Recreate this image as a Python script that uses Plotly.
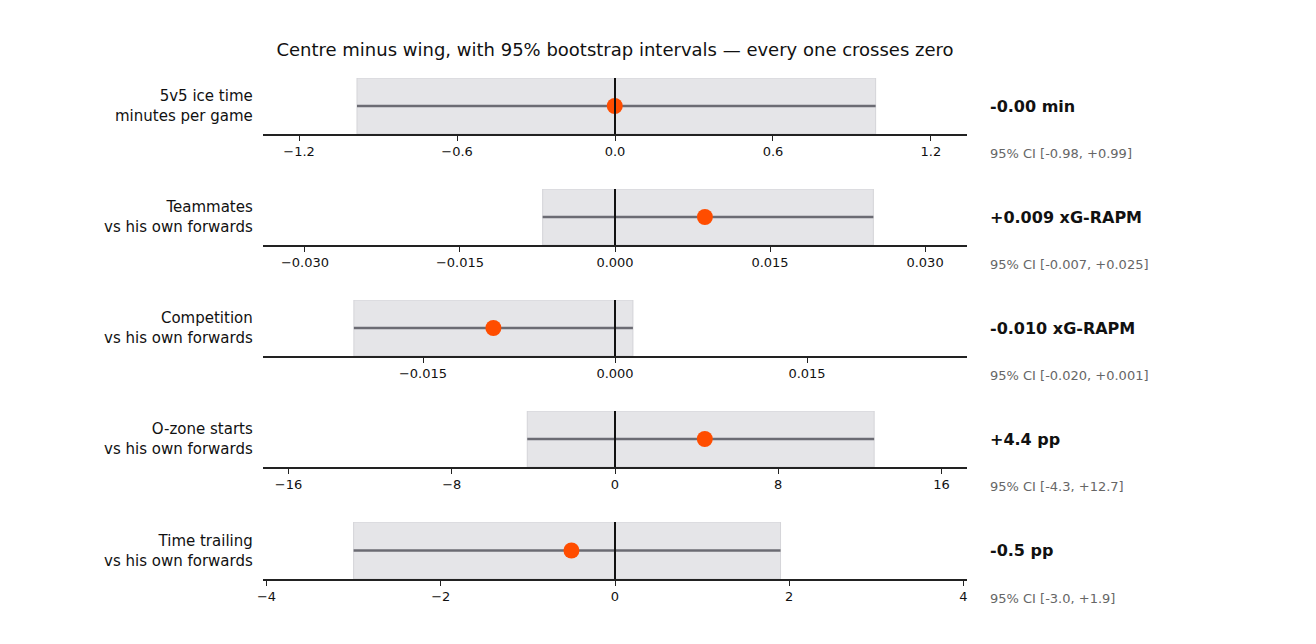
import plotly.graph_objects as go

labels = ["5v5 ice time<br>minutes per game", "Teammates<br>vs his own forwards", "Competition<br>vs his own forwards",
          "O-zone starts<br>vs his own forwards", "Time trailing<br>vs his own forwards"]
est = [-0.001, 0.0087, -0.0095, 4.4, -0.5]
lo = [-0.98, -0.007, -0.0204, -4.3, -3.0]
hi = [0.99, 0.025, 0.0014, 12.7, 1.9]
val_text = ["-0.00 min", "+0.009 xG-RAPM", "-0.010 xG-RAPM", "+4.4 pp", "-0.5 pp"]
ci_text = ["95% CI [-0.98, +0.99]", "95% CI [-0.007, +0.025]", "95% CI [-0.020, +0.001]",
           "95% CI [-4.3, +12.7]", "95% CI [-3.0, +1.9]"]
ranges = [1.337, 0.03406, 0.0275, 17.25, 4.04]
dticks = [0.6, 0.015, 0.015, 8, 2]
fmts = [".1f", ".3f", ".3f", "d", "d"]

W, H = 1316, 644
S = 8  # page offset
L, R, T, B = 263 - S, 967 - S, 78 - S, 579 - S
tops = [t - S for t in [78, 189, 300, 411, 522]]
bots = [b - S for b in [134, 245, 356, 467, 579]]
ph = B - T

fig = go.Figure()
shapes, ann = [], []
for i in range(5):
    n = "" if i == 0 else str(i + 1)
    xa, ya = "x" + n, "y" + n
    d0 = 1 - (bots[i] - T) / ph
    d1 = 1 - (tops[i] - T) / ph
    fig.add_trace(go.Scatter(x=[lo[i], hi[i]], y=[0.5, 0.5], mode="lines",
                             line=dict(color="#6b6b73", width=2.5), xaxis=xa, yaxis=ya, showlegend=False))
    fig.add_trace(go.Scatter(x=[est[i]], y=[0.5], mode="markers",
                             marker=dict(color="#ff4d00", size=16), xaxis=xa, yaxis=ya, showlegend=False))
    shapes.append(dict(type="rect", xref=xa, yref=ya, x0=lo[i], x1=hi[i], y0=0, y1=1,
                       fillcolor="#e5e5e8", line=dict(color="#d4d4d8", width=1), layer="below"))
    shapes.append(dict(type="line", xref=xa, yref=ya, x0=0, x1=0, y0=0, y1=1,
                       line=dict(color="#111111", width=2)))
    fig.layout["xaxis" + n] = dict(domain=[0, 1], range=[-ranges[i], ranges[i]], anchor=ya,
                                   dtick=dticks[i], tick0=0, tickformat=fmts[i], showgrid=False, zeroline=False,
                                   showline=True, linecolor="#222", linewidth=1.5, ticks="outside", ticklen=5,
                                   tickcolor="#222", tickfont=dict(size=13, color="#111"))
    fig.layout["yaxis" + n] = dict(domain=[d0, d1], range=[0, 1], anchor=xa, visible=False)
    yc = 1 - ((tops[i] + bots[i]) / 2 - T) / ph
    xr = (988 - S - L) / (R - L)
    ann.append(dict(xref="paper", yref="paper", x=-0.011, y=yc, text=labels[i], showarrow=False,
                    xanchor="right", yanchor="middle", align="right", font=dict(size=15, color="#111")))
    ann.append(dict(xref="paper", yref="paper", x=xr, y=yc, text="<b>" + val_text[i] + "</b>",
                    showarrow=False, xanchor="left", yanchor="middle", font=dict(size=16, color="#111")))
    ann.append(dict(xref="paper", yref="paper", x=xr, y=1 - (bots[i] + 19 - T) / ph,
                    text=ci_text[i], showarrow=False, xanchor="left", yanchor="middle",
                    font=dict(size=13, color="#666")))

fig.update_layout(width=W, height=H, margin=dict(l=L, r=W - R, t=T, b=H - B),
                  plot_bgcolor="white", paper_bgcolor="white", shapes=shapes, annotations=ann,
                  font=dict(family="DejaVu Sans"),
                  title=dict(text="Centre minus wing, with 95% bootstrap intervals — every one crosses zero",
                             x=(615 - S) / W, xanchor="center", y=1 - (50 - S) / H, yanchor="middle",
                             font=dict(size=18, color="#111")))
fig.write_html("out.html")
